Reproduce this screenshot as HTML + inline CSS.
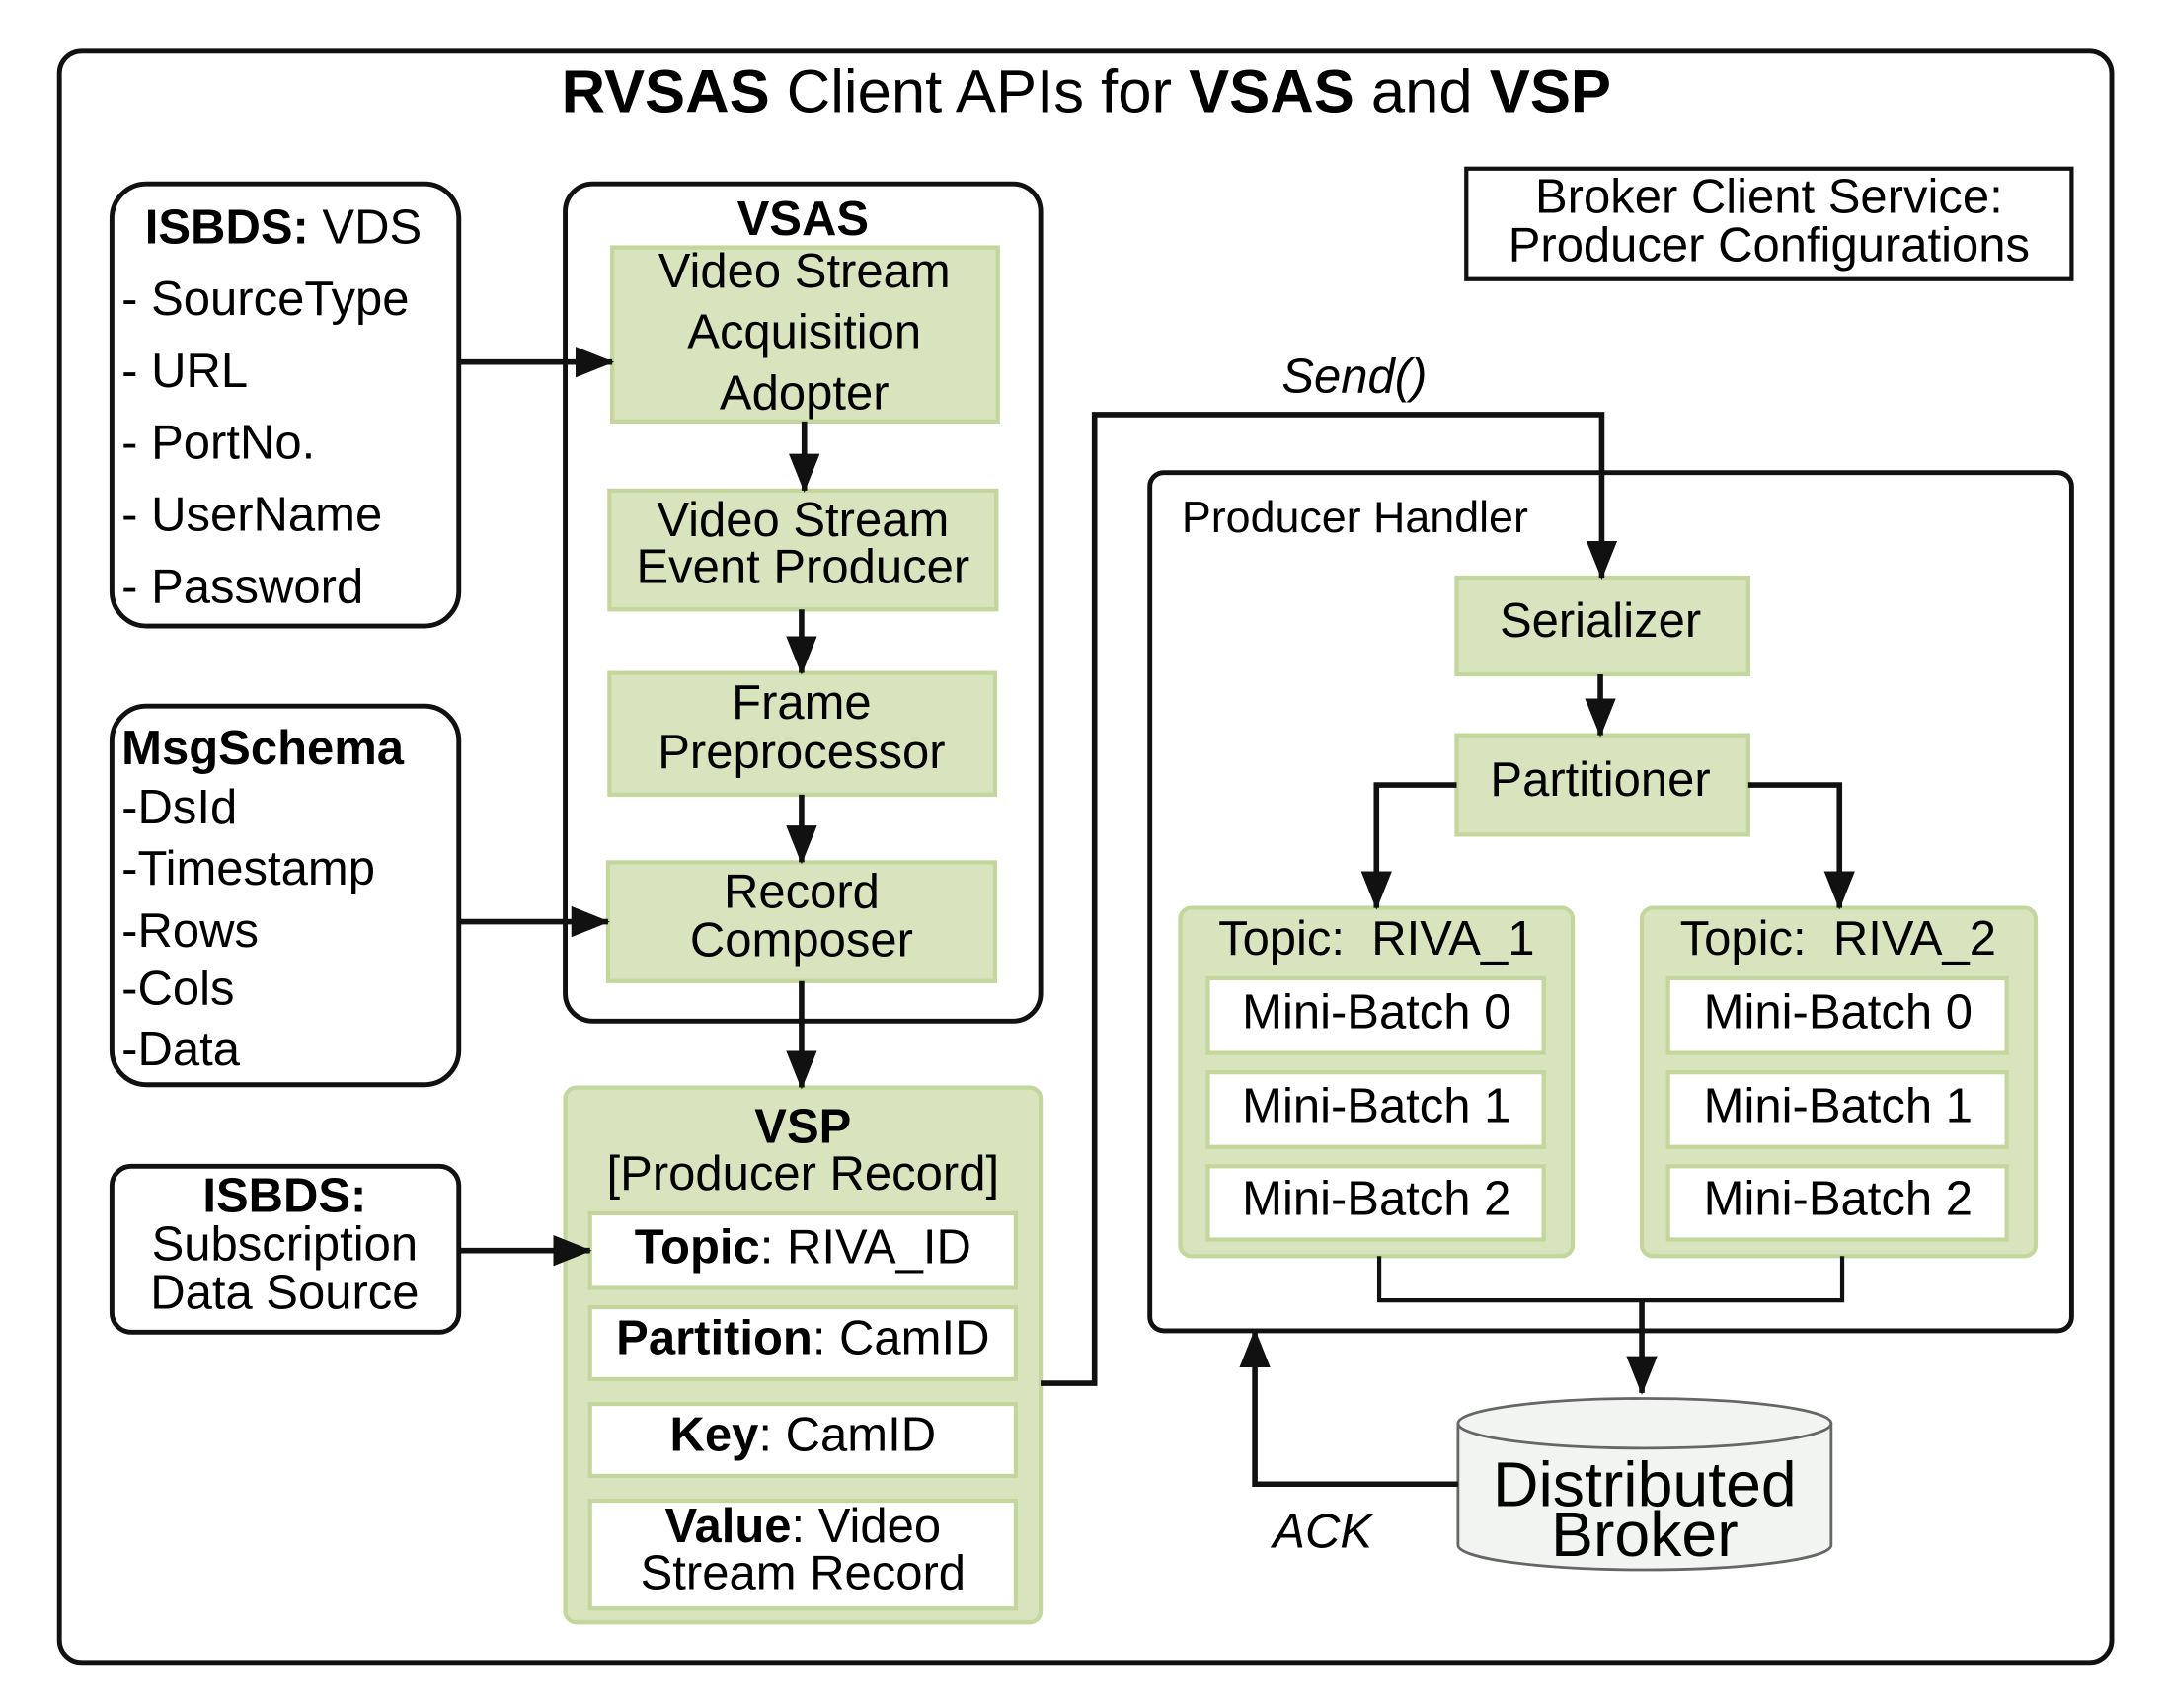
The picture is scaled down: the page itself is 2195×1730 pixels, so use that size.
<!DOCTYPE html>
<html><head><meta charset="utf-8"><style>
html,body{margin:0;padding:0;background:#fff}
svg{display:block}
text{font-family:"Liberation Sans Narrow","Liberation Sans",sans-serif;fill:#000}
.t{font-size:35px}
.c{text-anchor:middle}
.b{font-weight:bold}
.g{fill:#d7e4bd;stroke:#c3d69b;stroke-width:3}
.w{fill:#fff;stroke:#c3d69b;stroke-width:3}
.k{fill:none;stroke:#111;stroke-width:3.5}
.l{fill:none;stroke:#111;stroke-width:4}
</style></head><body>
<svg width="2195" height="1730" viewBox="0 0 1568 1236" preserveAspectRatio="none" xmlns="http://www.w3.org/2000/svg">
<defs>
<marker id="m" viewBox="0 0 10 10" refX="9.5" refY="5" markerWidth="28" markerHeight="28" markerUnits="userSpaceOnUse" orient="auto"><path d="M0,1L10,5L0,9z" fill="#111"/></marker></defs>
<rect x="43" y="37" width="1485" height="1166" rx="16" class="k"/>
<text x="786" y="81" class="c" style="font-size:44px"><tspan class="b">RVSAS</tspan> Client APIs for <tspan class="b">VSAS</tspan> and <tspan class="b">VSP</tspan></text>

<rect x="81" y="133" width="251" height="320" rx="25" class="k"/>
<text x="205" y="176" class="c t"><tspan class="b">ISBDS:</tspan> VDS</text>
<text x="88" class="t"><tspan x="88" y="228">- SourceType</tspan><tspan x="88" y="280">- URL</tspan><tspan x="88" y="332">- PortNo.</tspan><tspan x="88" y="384">- UserName</tspan><tspan x="88" y="436">- Password</tspan></text>

<rect x="81" y="511" width="251" height="274" rx="25" class="k"/>
<text x="88" y="553" class="t b">MsgSchema</text>
<text class="t"><tspan x="88" y="596">-DsId</tspan><tspan x="88" y="640">-Timestamp</tspan><tspan x="88" y="685">-Rows</tspan><tspan x="88" y="727">-Cols</tspan><tspan x="88" y="771">-Data</tspan></text>

<rect x="81" y="844" width="251" height="120" rx="14" class="k"/>
<text x="206" y="877" class="c t b">ISBDS:</text>
<text x="206" y="912" class="c t">Subscription</text>
<text x="206" y="947" class="c t">Data Source</text>

<rect x="409" y="133" width="344" height="606" rx="20" class="k"/>
<text x="581" y="170" class="c t b">VSAS</text>
<rect x="443" y="179" width="279" height="126" class="g"/>
<text x="582" y="208" class="c t">Video Stream</text><text x="582" y="252" class="c t">Acquisition</text><text x="582" y="296" class="c t">Adopter</text>
<rect x="441" y="355" width="280" height="86" class="g"/>
<text x="581" y="388" class="c t">Video Stream</text><text x="581" y="422" class="c t">Event Producer</text>
<rect x="441" y="487" width="279" height="88" class="g"/>
<text x="580" y="520" class="c t">Frame</text><text x="580" y="556" class="c t">Preprocessor</text>
<rect x="440" y="624" width="280" height="86" class="g"/>
<text x="580" y="657" class="c t">Record</text><text x="580" y="692" class="c t">Composer</text>

<rect x="409" y="787" width="344" height="387" rx="8" class="g"/>
<text x="581" y="827" class="c t b">VSP</text>
<text x="581" y="861" class="c t">[Producer Record]</text>
<rect x="427" y="878" width="308" height="54" class="w"/>
<text x="581" y="914" class="c t"><tspan class="b">Topic</tspan>: RIVA_ID</text>
<rect x="427" y="946" width="308" height="52" class="w"/>
<text x="581" y="980" class="c t"><tspan class="b">Partition</tspan>: CamID</text>
<rect x="427" y="1016" width="308" height="52" class="w"/>
<text x="581" y="1050" class="c t"><tspan class="b">Key</tspan>: CamID</text>
<rect x="427" y="1086" width="308" height="78" class="w"/>
<text x="581" y="1116" class="c t"><tspan class="b">Value</tspan>: Video</text>
<text x="581" y="1150" class="c t">Stream Record</text>

<rect x="1061" y="122" width="438" height="80" fill="none" stroke="#111" stroke-width="3"/>
<text x="1280" y="154" class="c t">Broker Client Service:</text>
<text x="1280" y="189" class="c t">Producer Configurations</text>

<text x="980" y="284" class="c t" style="font-style:italic">Send()</text>

<rect x="832" y="342" width="667" height="621" rx="10" class="k"/>
<text x="855" y="385" style="font-size:32px">Producer Handler</text>
<rect x="1054" y="418" width="211" height="70" class="g"/>
<text x="1158" y="461" class="c t">Serializer</text>
<rect x="1054" y="532" width="211" height="72" class="g"/>
<text x="1158" y="576" class="c t">Partitioner</text>

<rect x="854" y="657" width="284" height="252" rx="8" class="g"/>
<text x="996" y="691" class="c t" xml:space="preserve">Topic:  RIVA_1</text>
<rect x="874" y="708" width="243" height="54" class="w"/><text x="996" y="744" class="c t">Mini-Batch 0</text>
<rect x="874" y="776" width="243" height="54" class="w"/><text x="996" y="812" class="c t">Mini-Batch 1</text>
<rect x="874" y="844" width="243" height="53" class="w"/><text x="996" y="879" class="c t">Mini-Batch 2</text>
<rect x="1188" y="657" width="285" height="252" rx="8" class="g"/>
<text x="1330" y="691" class="c t" xml:space="preserve">Topic:  RIVA_2</text>
<rect x="1207" y="708" width="245" height="54" class="w"/><text x="1330" y="744" class="c t">Mini-Batch 0</text>
<rect x="1207" y="776" width="245" height="54" class="w"/><text x="1330" y="812" class="c t">Mini-Batch 1</text>
<rect x="1207" y="844" width="245" height="53" class="w"/><text x="1330" y="879" class="c t">Mini-Batch 2</text>

<path d="M1055,1030 L1055,1118 A135,18 0 0 0 1325,1118 L1325,1030" fill="#f2f4f2" stroke="#666" stroke-width="2"/>
<ellipse cx="1190" cy="1030" rx="135" ry="18" fill="#f2f4f2" stroke="#666" stroke-width="2"/>
<text x="1190" y="1090" class="c" style="font-size:46px">Distributed</text>
<text x="1190" y="1126" class="c" style="font-size:46px">Broker</text>
<text x="957" y="1120" class="c t" style="font-style:italic">ACK</text>

<g class="l">
<path d="M332,262H443" marker-end="url(#m)"/>
<path d="M332,667H440" marker-end="url(#m)"/>
<path d="M332,905H427" marker-end="url(#m)"/>
<path d="M582,305V355" marker-end="url(#m)"/>
<path d="M580,441V487" marker-end="url(#m)"/>
<path d="M580,575V624" marker-end="url(#m)"/>
<path d="M580,710V787" marker-end="url(#m)"/>
<path d="M753,1001H792V300H1159V418" marker-end="url(#m)"/>
<path d="M1158,488V532" marker-end="url(#m)"/>
<path d="M1054,568H996V657" marker-end="url(#m)"/>
<path d="M1265,568H1331V657" marker-end="url(#m)"/>
<path d="M1055,1074H908V963" marker-end="url(#m)"/>
</g>
<path d="M998,909V941H1333V909" fill="none" stroke="#111" stroke-width="3"/>
<path d="M1188,941V1008" class="l" marker-end="url(#m)"/>
</svg>
</body></html>
